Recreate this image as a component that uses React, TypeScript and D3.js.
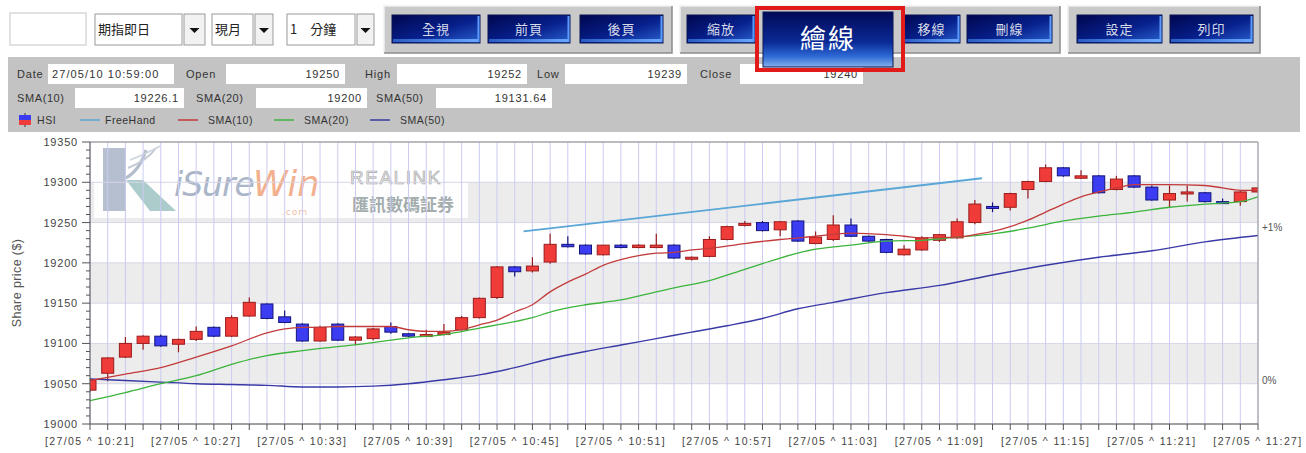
import * as d3 from 'd3';

const candleTimes = [
  '10:21', '10:22', '10:23', '10:24', '10:25', '10:26', '10:27', '10:28', '10:29', '10:30',
  '10:31', '10:32', '10:33', '10:34', '10:35', '10:36', '10:37', '10:38', '10:39', '10:40',
  '10:41', '10:42', '10:43', '10:44', '10:45', '10:46', '10:47', '10:48', '10:49', '10:50',
  '10:51', '10:52', '10:53', '10:54', '10:55', '10:56', '10:57', '10:58', '10:59', '11:00',
  '11:01', '11:02', '11:03', '11:04', '11:05', '11:06', '11:07', '11:08', '11:09', '11:10',
  '11:11', '11:12', '11:13', '11:14', '11:15', '11:16', '11:17', '11:18', '11:19', '11:20',
  '11:21', '11:22', '11:23', '11:24', '11:25', '11:26', '11:27',
];
const openVals = [
  19042, 19063, 19083, 19100, 19109, 19099, 19105, 19120, 19109, 19134,
  19149, 19133, 19124, 19103, 19124, 19104, 19106, 19121, 19112, 19109,
  19111, 19117, 19132, 19157, 19195, 19190, 19201, 19223, 19222, 19210,
  19222, 19219, 19219, 19222, 19205, 19208, 19229, 19247, 19250, 19241,
  19252, 19224, 19229, 19247, 19233, 19229, 19210, 19216, 19228, 19231,
  19250, 19270, 19269, 19291, 19301, 19318, 19305, 19308, 19291, 19308,
  19294, 19278, 19287, 19287, 19276, 19276, 19288,
];
const highVals = [
  19057, 19083, 19108, 19110, 19111, 19106, 19121, 19121, 19135, 19157,
  19150, 19141, 19125, 19122, 19125, 19109, 19119, 19126, 19113, 19117,
  19124, 19134, 19157, 19196, 19196, 19207, 19236, 19233, 19223, 19222,
  19223, 19223, 19236, 19223, 19208, 19233, 19246, 19252, 19252, 19252,
  19253, 19239, 19259, 19255, 19234, 19230, 19222, 19233, 19236, 19255,
  19278, 19275, 19287, 19302, 19322, 19319, 19315, 19309, 19308, 19309,
  19296, 19296, 19296, 19288, 19280, 19289, 19294,
];
const lowVals = [
  19040, 19053, 19082, 19092, 19096, 19089, 19103, 19108, 19108, 19133,
  19130, 19125, 19102, 19102, 19103, 19098, 19104, 19112, 19108, 19108,
  19110, 19116, 19131, 19155, 19183, 19188, 19199, 19219, 19210, 19209,
  19218, 19218, 19218, 19205, 19203, 19207, 19228, 19245, 19239, 19233,
  19226, 19223, 19227, 19232, 19226, 19212, 19209, 19215, 19226, 19230,
  19248, 19263, 19265, 19280, 19300, 19307, 19304, 19286, 19290, 19293,
  19277, 19269, 19276, 19275, 19274, 19271, 19287,
];
const closeVals = [
  19055, 19082, 19100, 19109, 19097, 19105, 19115, 19109, 19132, 19151,
  19131, 19126, 19103, 19120, 19104, 19108, 19118, 19114, 19109, 19111,
  19114, 19132, 19156, 19195, 19189, 19196, 19223, 19220, 19211, 19222,
  19219, 19222, 19222, 19206, 19207, 19229, 19245, 19249, 19240, 19251,
  19227, 19232, 19247, 19233, 19227, 19213, 19217, 19231, 19235, 19251,
  19273, 19269, 19286, 19301, 19318, 19308, 19308, 19287, 19304, 19294,
  19278, 19286, 19288, 19276, 19275, 19288, 19293,
];

// moving averages: [time, value]
const sma10: [string, number][] = [
  ['10:21', 19054], ['10:23', 19062], ['10:25', 19070], ['10:27', 19083], ['10:29', 19097],
  ['10:31', 19113], ['10:32', 19118], ['10:33', 19120], ['10:34', 19120], ['10:35', 19121],
  ['10:37', 19121], ['10:38', 19121], ['10:39', 19117], ['10:40', 19115], ['10:41', 19115],
  ['10:42', 19117], ['10:43', 19123], ['10:44', 19129], ['10:45', 19139], ['10:46', 19148],
  ['10:47', 19164], ['10:48', 19176], ['10:49', 19186], ['10:50', 19197], ['10:51', 19204],
  ['10:52', 19209], ['10:53', 19212], ['10:54', 19213], ['10:55', 19216], ['10:56', 19218],
  ['10:58', 19224], ['11:00', 19229], ['11:02', 19233], ['11:04', 19237], ['11:06', 19235],
  ['11:07', 19233], ['11:08', 19231], ['11:10', 19232], ['11:11', 19235], ['11:12', 19239],
  ['11:13', 19245], ['11:14', 19253], ['11:15', 19263], ['11:16', 19273], ['11:17', 19282],
  ['11:18', 19288], ['11:19', 19293], ['11:20', 19297], ['11:22', 19297], ['11:24', 19296],
  ['11:25', 19293], ['11:26', 19290], ['11:27', 19290],
];
const sma20: [string, number][] = [
  ['10:21', 19029], ['10:23', 19039], ['10:25', 19050], ['10:27', 19060], ['10:29', 19074],
  ['10:31', 19085], ['10:33', 19091], ['10:35', 19096], ['10:37', 19101], ['10:39', 19107],
  ['10:41', 19111], ['10:43', 19119], ['10:44', 19123], ['10:45', 19127], ['10:46', 19132],
  ['10:47', 19139], ['10:49', 19148], ['10:51', 19154], ['10:53', 19164], ['10:54', 19169],
  ['10:56', 19178], ['10:58', 19192], ['10:59', 19199], ['11:00', 19206], ['11:02', 19217],
  ['11:04', 19222], ['11:06', 19227], ['11:08', 19228], ['11:10', 19232], ['11:12', 19236],
  ['11:14', 19243], ['11:16', 19252], ['11:18', 19258], ['11:20', 19263], ['11:22', 19269],
  ['11:24', 19273], ['11:26', 19276], ['11:27', 19282],
];
const sma50: [string, number][] = [
  ['10:21', 19056], ['10:23', 19054], ['10:25', 19052], ['10:27', 19050], ['10:29', 19049],
  ['10:31', 19048], ['10:33', 19046], ['10:35', 19046], ['10:37', 19047], ['10:39', 19050],
  ['10:41', 19055], ['10:43', 19061], ['10:45', 19070], ['10:47', 19081], ['10:49', 19090],
  ['10:51', 19098], ['10:53', 19106], ['10:55', 19114], ['10:57', 19122], ['10:59', 19131],
  ['11:01', 19143], ['11:03', 19151], ['11:06', 19163], ['11:09', 19172], ['11:12', 19185],
  ['11:15', 19197], ['11:18', 19207], ['11:21', 19215], ['11:24', 19226], ['11:27', 19234],
];
const freeHand: [string, number][] = [['10:45:30', 19239], ['11:11:24', 19305]];

const xTickLabels = ['10:21', '10:27', '10:33', '10:39', '10:45', '10:51', '10:57', '11:03', '11:09', '11:15', '11:21', '11:27'];
const yTickValues = [19000, 19050, 19100, 19150, 19200, 19250, 19300, 19350];
const bandRanges: [number, number][] = [[19050, 19100], [19150, 19200], [19250, 19300]];
const pctLabels: [string, number][] = [['+1%', 19245], ['0%', 19055]];

const infoRow1: [string, string][] = [['Date', '27/05/10 10:59:00'], ['Open', '19250'], ['High', '19252'], ['Low', '19239'], ['Close', '19240']];
const infoRow2: [string, string][] = [['SMA(10)', '19226.1'], ['SMA(20)', '19200'], ['SMA(50)', '19131.64']];
const legendItems: [string, string][] = [['FreeHand', '#5aa6d6'], ['SMA(10)', '#c23a3a'], ['SMA(20)', '#3cb43c'], ['SMA(50)', '#3a3aa6']];

const FONT = "'Liberation Sans', Arial, sans-serif";
const CJK = "'Noto Sans CJK TC', 'Noto Sans CJK SC', sans-serif";

const parseT = (s: string) => (d3.timeParse(s.length > 5 ? '%H:%M:%S' : '%H:%M')(s) as Date);

function Btn({ x, y, w, h, label, size = 13 }: { x: number; y: number; w: number; h: number; label: string; size?: number }) {
  return (
    <g>
      <rect x={x} y={y} width={w} height={h} fill="url(#btnGrad)" stroke="#0a1450" strokeWidth={1} />
      <rect x={x + 1} y={y + h - 4} width={w - 2} height={3} fill="url(#btnGlow)" />
      <line x1={x + w - 1.5} y1={y + 1} x2={x + w - 1.5} y2={y + h - 1} stroke="#5c9cff" strokeWidth={2} />
      <text x={x + w / 2} y={y + h / 2 + size * 0.36} textAnchor="middle" fontFamily={CJK} fontSize={size} fill="#d8dce8" letterSpacing={1}>{label}</text>
    </g>
  );
}

function Panel({ x, y, w, h }: { x: number; y: number; w: number; h: number }) {
  return (
    <g>
      <rect x={x} y={y} width={w} height={h} fill="#c9c9c9" />
      <polyline points={`${x},${y + h} ${x},${y} ${x + w},${y}`} fill="none" stroke="#f0f0f0" strokeWidth={1.5} />
      <polyline points={`${x + w},${y} ${x + w},${y + h} ${x},${y + h}`} fill="none" stroke="#8c8c8c" strokeWidth={1.5} />
    </g>
  );
}

function Combo({ x, w, bw, label }: { x: number; w: number; bw: number; label: string }) {
  const y = 14, h = 31;
  return (
    <g>
      <rect x={x} y={y} width={w} height={h} fill="#fff" stroke="#9a9a9a" />
      <text x={x + 3} y={y + 20} fontFamily={CJK} fontSize={13} fill="#222">{label}</text>
      <rect x={x + w + 2} y={y} width={bw} height={h} fill="#f2f2f2" stroke="#9a9a9a" />
      <path d={`M${x + w + 2 + bw / 2 - 5},${y + 14} l10,0 l-5,5 z`} fill="#111" />
    </g>
  );
}

export default function App() {
  const W = 1306, H = 453;
  const m = { left: 90, right: 1258, top: 142, bottom: 424 };
  const x = d3.scaleTime()
    .domain([parseT(candleTimes[0]), parseT(candleTimes[candleTimes.length - 1])])
    .range([m.left, m.right]);
  const y = d3.scaleLinear().domain([19000, 19350]).range([m.bottom, m.top]);

  const candles = candleTimes.map((t, i) => ({ t: parseT(t), o: openVals[i], h: highVals[i], l: lowVals[i], c: closeVals[i] }));
  const minutes = x.ticks(d3.timeMinute.every(1) as d3.TimeInterval);
  const minorY = y.ticks(35);

  const line = d3.line<[string, number]>()
    .x(d => x(parseT(d[0])))
    .y(d => y(d[1]))
    .curve(d3.curveMonotoneX);

  const bw = 12;

  // info row layout
  const row1Pos = [
    { lx: 17, bx: 48, bw: 126, left: true },
    { lx: 186, bx: 226, bw: 119 },
    { lx: 365, bx: 397, bw: 130 },
    { lx: 537, bx: 565, bw: 122 },
    { lx: 700, bx: 740, bw: 123 },
  ];
  const row2Pos = [
    { lx: 17, bx: 75, bw: 109 },
    { lx: 196, bx: 256, bw: 111 },
    { lx: 376, bx: 436, bw: 116 },
  ];
  const legendPos = [{ l: 80, t: 105 }, { l: 178, t: 208 }, { l: 274, t: 304 }, { l: 370, t: 400 }];

  return (
    <svg width={W} height={H} style={{ position: 'absolute', left: 0, top: 0, background: '#fff' }}>
      <defs>
        <linearGradient id="btnGrad" x1="0" y1="0" x2="1" y2="1">
          <stop offset="0" stopColor="#00064e" />
          <stop offset="0.55" stopColor="#07208c" />
          <stop offset="1" stopColor="#2a62d0" />
        </linearGradient>
        <linearGradient id="btnGlow" x1="0" y1="0" x2="1" y2="0">
          <stop offset="0" stopColor="#2a5cc4" />
          <stop offset="1" stopColor="#6aa8ff" />
        </linearGradient>
        <linearGradient id="bigGrad" x1="0" y1="0" x2="0" y2="1">
          <stop offset="0" stopColor="#020a58" />
          <stop offset="0.55" stopColor="#0a2a96" />
          <stop offset="0.8" stopColor="#2c68d4" />
          <stop offset="1" stopColor="#84b0ea" />
        </linearGradient>
        <clipPath id="plotClip">
          <rect x={m.left} y={m.top} width={m.right - m.left} height={m.bottom - m.top} />
        </clipPath>
      </defs>

      {/* toolbar */}
      <rect x={10} y={13} width={76} height={32} fill="#fff" stroke="#c4c4c4" />
      <Combo x={95} w={87} bw={21} label="期指即日" />
      <Combo x={212} w={41} bw={18} label="現月" />
      <Combo x={287} w={68} bw={17} label="1　分鐘" />

      <Panel x={384} y={6} w={288} h={47} />
      <Btn x={392} y={15} w={88} h={28} label="全視" />
      <Btn x={488} y={15} w={82} h={28} label="前頁" />
      <Btn x={580} y={15} w={83} h={28} label="後頁" />

      <Panel x={680} y={6} w={380} h={47} />
      <Btn x={687} y={15} w={68} h={28} label="縮放" />
      <Btn x={903} y={15} w={57} h={28} label="移線" />
      <Btn x={967} y={15} w={85} h={28} label="刪線" />

      <Panel x={1068} y={6} w={192} h={47} />
      <Btn x={1077} y={15} w={85} h={28} label="設定" />
      <Btn x={1170} y={15} w={83} h={28} label="列印" />

      {/* info panel */}
      <rect x={8} y={57} width={1292} height={75} fill="#c3c3c3" />
      {infoRow1.map(([lab, val], i) => {
        const p = row1Pos[i];
        return (
          <g key={lab}>
            <text x={p.lx} y={78} fontFamily={FONT} fontSize={11} fill="#333" letterSpacing={0.8}>{lab}</text>
            <rect x={p.bx} y={64} width={p.bw} height={20} fill="#fff" />
            <text x={p.left ? p.bx + 4 : p.bx + p.bw - 5} y={78} textAnchor={p.left ? 'start' : 'end'} fontFamily={FONT} fontSize={11} fill="#333" letterSpacing={p.left ? 1.1 : 0.8}>{val}</text>
          </g>
        );
      })}
      {infoRow2.map(([lab, val], i) => {
        const p = row2Pos[i];
        return (
          <g key={lab}>
            <text x={p.lx} y={102} fontFamily={FONT} fontSize={11} fill="#333" letterSpacing={0.6}>{lab}</text>
            <rect x={p.bx} y={88} width={p.bw} height={20} fill="#fff" />
            <text x={p.bx + p.bw - 5} y={102} textAnchor="end" fontFamily={FONT} fontSize={11} fill="#333" letterSpacing={0.8}>{val}</text>
          </g>
        );
      })}
      {/* legend */}
      <g>
        <line x1={25} y1={113} x2={25} y2={127} stroke="#333" />
        <rect x={19} y={115} width={12} height={5} fill="#3a3af0" />
        <rect x={19} y={120} width={12} height={5} fill="#ee3c3c" />
        <text x={37} y={124} fontFamily={FONT} fontSize={10.5} fill="#333" letterSpacing={0.6}>HSI</text>
        {legendItems.map(([lab, col], i) => (
          <g key={lab}>
            <line x1={legendPos[i].l} y1={120} x2={legendPos[i].l + 20} y2={120} stroke={col} strokeWidth={1.5} />
            <text x={legendPos[i].t} y={124} fontFamily={FONT} fontSize={10.5} fill="#333" letterSpacing={0.5}>{lab}</text>
          </g>
        ))}
      </g>

      {/* highlighted big button */}
      <rect x={763} y={12} width={130} height={55} fill="url(#bigGrad)" stroke="#0a1450" />
      <text x={828} y={48} textAnchor="middle" fontFamily={CJK} fontSize={26} fill="#fff" letterSpacing={2}>繪線</text>
      <rect x={757} y={8} width={146} height={62} fill="none" stroke="#e21a1a" strokeWidth={4} />

      {/* plot */}
      <rect x={m.left} y={m.top} width={m.right - m.left} height={m.bottom - m.top} fill="#fff" />
      {bandRanges.map(([a, b]) => (
        <rect key={a} x={m.left} y={y(b)} width={m.right - m.left} height={y(a) - y(b)} fill="#ececec" />
      ))}

      {/* watermark logo */}
      <g>
        <rect x={94} y={143} width={374} height={75} fill="#fff" opacity={0.93} />
        <rect x={103} y={148} width={23} height={63} fill="#a9b4c8" opacity={0.85} />
        <polygon points="126,180 143,180 176,211 150,211" fill="#9dc2c2" opacity={0.85} />
        <path d="M126,178 Q140,170 146,150" fill="none" stroke="#b3bccb" strokeWidth={3} />
        <path d="M128,168 Q148,160 156,148" fill="none" stroke="#c3cad6" strokeWidth={2} />
        <path d="M130,160 Q150,152 160,146" fill="none" stroke="#cfd5df" strokeWidth={1.5} />
        <text x={174} y={196} fontFamily="'DejaVu Sans', sans-serif" fontStyle="italic" fontSize={33} fill="#aab6c8" letterSpacing={-1}>iSure</text>
        <text x={253} y={196} fontFamily="'DejaVu Sans', sans-serif" fontStyle="italic" fontSize={35} fill="#f3b08e">Win</text>
        <text x={282} y={215} fontFamily="'DejaVu Sans', sans-serif" fontSize={9} fill="#f2c0a6" letterSpacing={1}>.com</text>
        <text x={350} y={184} fontFamily={FONT} fontSize={19} fill="#e6e6e6" stroke="#a4a4a4" strokeWidth={0.6} letterSpacing={1.5}>REALINK</text>
        <text x={352} y={211} fontFamily={CJK} fontSize={17} fontWeight={700} fill="#a3adad">匯訊數碼証券</text>
      </g>

      {/* grid */}
      {yTickValues.map(v => (
        <line key={v} x1={m.left} x2={m.right} y1={y(v)} y2={y(v)} stroke="#d6d6e6" />
      ))}
      {minutes.map((t, i) => (
        <line key={i} x1={x(t)} x2={x(t)} y1={m.top} y2={m.bottom} stroke="#cbcbf3" />
      ))}

      {/* candles */}
      <g clipPath="url(#plotClip)">
        {candles.map((d, i) => {
          const up = d.c >= d.o;
          const fill = up ? '#f03c38' : '#3c3cf2';
          const edge = up ? '#9a1c1c' : '#14147a';
          const cx = x(d.t);
          const top = y(Math.max(d.o, d.c));
          const hgt = Math.max(2, Math.abs(y(d.o) - y(d.c)));
          return (
            <g key={i}>
              <line x1={cx} x2={cx} y1={y(d.h)} y2={y(d.l)} stroke={edge} strokeWidth={1.2} />
              <rect x={cx - bw / 2} y={top} width={bw} height={hgt} fill={fill} stroke={edge} strokeWidth={1} />
            </g>
          );
        })}
        <path d={line(sma50) ?? ''} fill="none" stroke="#3a3aa6" strokeWidth={1.4} />
        <path d={line(sma20) ?? ''} fill="none" stroke="#3cb43c" strokeWidth={1.3} />
        <path d={line(sma10) ?? ''} fill="none" stroke="#c23a3a" strokeWidth={1.3} />
        <path d={line(freeHand) ?? ''} fill="none" stroke="#5aa6d6" strokeWidth={1.8} />
      </g>

      {/* frame */}
      <line x1={m.left} x2={m.right} y1={m.top} y2={m.top} stroke="#8c8c8c" />
      <line x1={m.right} x2={m.right} y1={m.top} y2={m.bottom} stroke="#9a9a9a" />

      {/* y axis */}
      <line x1={m.left} x2={m.left} y1={m.top} y2={m.bottom} stroke="#555" />
      {minorY.map(v => (
        <line key={v} x1={m.left - (v % 50 === 0 ? 8 : 4)} x2={m.left} y1={y(v)} y2={y(v)} stroke="#555" />
      ))}
      {yTickValues.map(v => (
        <text key={v} x={78} y={y(v) + 4} textAnchor="end" fontFamily={FONT} fontSize={11} fill="#444" letterSpacing={0.8}>{v}</text>
      ))}
      <text transform={`translate(21,${(m.top + m.bottom) / 2}) rotate(-90)`} textAnchor="middle" fontFamily={FONT} fontSize={12.5} fill="#555" letterSpacing={0.4}>Share price ($)</text>

      {/* x axis */}
      <line x1={m.left} x2={m.right} y1={m.bottom} y2={m.bottom} stroke="#555" />
      {minutes.map((t, i) => (
        <line key={i} x1={x(t)} x2={x(t)} y1={m.bottom} y2={m.bottom + 6} stroke="#555" />
      ))}
      {xTickLabels.map(s => (
        <text key={s} x={x(parseT(s))} y={445} textAnchor="middle" fontFamily={FONT} fontSize={10.5} fill="#444" letterSpacing={1.4}>{`[27/05 ^ ${s}]`}</text>
      ))}

      {/* right percent labels */}
      {pctLabels.map(([lab, v]) => (
        <text key={lab} x={m.right + 4} y={y(v) + 4} fontFamily={FONT} fontSize={10} fill="#555">{lab}</text>
      ))}
    </svg>
  );
}
